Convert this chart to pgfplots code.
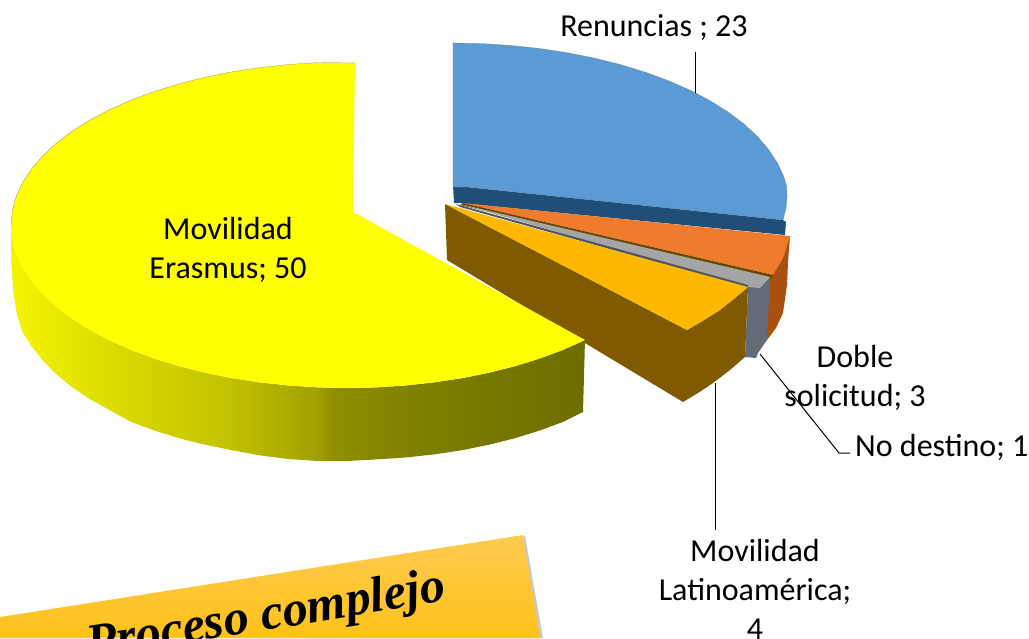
\documentclass[border=0pt]{standalone}
\usepackage{fontspec}
\setmainfont{Carlito}
\newfontfamily\cardfont{Liberation Serif}
\usepackage{pgfplots}
\pgfplotsset{compat=1.18}

\definecolor{erasmus}{HTML}{FFFF00}
\definecolor{renun}{HTML}{5B9BD5}
\definecolor{renunside}{HTML}{1F4E79}
\definecolor{doble}{HTML}{F07B2C}
\definecolor{dobleside}{HTML}{A9500F}
\definecolor{nodest}{HTML}{A5A5A5}
\definecolor{nodestside}{HTML}{636B78}
\definecolor{latino}{HTML}{FDB800}
\definecolor{latinoside}{HTML}{7F5A00}
\definecolor{cardtop}{HTML}{FFCB50}
\definecolor{cardbot}{HTML}{FFC21A}
% tikz maps the path's box onto 25bp..75bp of the shading
\pgfdeclarehorizontalshading{yellowside}{100bp}{
  color(0bp)=(yellow!96!black);
  color(25bp)=(yellow!96!black);
  color(33bp)=(yellow!87!black);
  color(44bp)=(yellow!76!black);
  color(52bp)=(yellow!62!black);
  color(53bp)=(yellow!56!black);
  color(60bp)=(yellow!50!black);
  color(68bp)=(yellow!46!black);
  color(75bp)=(yellow!43!black);
  color(100bp)=(yellow!43!black)}

\begin{document}
\begin{tikzpicture}
\clip (0,0) rectangle (1029pt,638pt);
\begin{axis}[
    scale only axis, width=1029pt, height=638pt,
    xmin=0, xmax=1029, ymin=0, ymax=638, y dir=reverse,
    hide axis, clip=false,
    every axis plot/.append style={no markers, line join=round},
  ]
  % card behind the text, at the bottom
  \addplot[draw=none, fill=black!22] coordinates {(525,536) (543,638) (300,638)} --cycle;
  \addplot[draw=none, top color=cardtop, bottom color=cardbot] coordinates {(0,617) (523,535) (540,638) (0,638)} --cycle;

  % Renuncias
  \addplot[draw=none, fill=renunside] coordinates {(453,185) (467,187) (783,220) (786,222) (785,235) (460,203) (454,203)} --cycle;
  \addplot[draw=black!55, very thin, fill=renun] coordinates {
    (453,43) (482.3,43.6) (511.3,45.5) (540,48.5) (567.9,52.8) (595,58.2) (621,64.7) (645.7,72.3)
    (669,80.9) (690.6,90.4) (710.4,100.9) (728.2,112.1) (744,124) (757.5,136.5)
    (768.7,149.6) (777.5,163.1) (783.9,176.9) (786.5,186) (787,196) (786,208) (783,220) (467,187) (453,187)} --cycle;

  % Doble solicitud
  \addplot[draw=none, fill=dobleside] coordinates {(790,236) (788,263) (787,285) (783,313) (776,328) (767,340) (758,330) (770,277)} --cycle;
  \addplot[draw=none, fill=doble] coordinates {(463,203) (790,236) (783,258) (773,275)} --cycle;
  \addplot[draw=none, fill=latinoside!80!black] coordinates {(463,203) (773,275) (770,278) (460,205)} --cycle;

  % No destino
  \addplot[draw=none, fill=nodestside] coordinates {(748,287) (760,287) (770,277) (767,340) (758,353) (756,358) (745,357)} --cycle;
  \addplot[draw=none, fill=nodest] coordinates {(460,204) (770,277) (760,288) (748,287)} --cycle;
  \addplot[draw=none, fill=nodestside!80!black] coordinates {(456,204) (748,285) (748,288) (460,207)} --cycle;

  % Movilidad Latinoamerica
  \addplot[draw=none, fill=latinoside] coordinates {
    (445,204) (687,330) (704,320) (720,310) (735,298) (748,287) (745,357) (730,370) (713,383) (698,393) (683,402) (447,260)} --cycle;
  \addplot[draw=none, fill=latino] coordinates {(445,204) (748,287) (735,298) (720,310) (704,320) (687,330)} --cycle;

  % Movilidad Erasmus
  \addplot[draw=none, shade, shading=yellowside] coordinates {
    (11,225) (12.3,239.2) (16.1,253.3) (22.5,267.2) (31.3,280.7) (42.5,293.9) (56,306.5)
    (71.8,318.5) (89.6,329.8) (109.4,340.3) (131,349.9) (154.3,358.5) (179,366.2) (205,372.7)
    (232.1,378.2) (260,382.4) (288.7,385.5) (317.7,387.4) (347,388) (376.3,387.4) (405.3,385.5)
    (434,382.4) (461.9,378.2) (489,372.7) (515,366.2) (539.7,358.5) (563,349.9)
    (585,340) (583,412) (563,421.9) (539.7,430.5) (515,438.2) (489,444.7) (461.9,450.2)
    (434,454.4) (405.3,457.5) (376.3,459.4) (347,461) (317.7,461)
    (288.7,459) (260,455.4) (232.1,450.2) (205,444.7) (179,438.2) (154.3,430.5)
    (131,421.9) (109.4,410) (89.6,399) (71.8,387) (56,374) (42.5,360)
    (31.3,346) (22.5,332) (17,315) (13,290) (11,250)} --cycle;
  \addplot[draw=none, fill=erasmus] coordinates {
    (355,63) (317.7,62.6) (288.7,64.5) (260,67.6) (232.1,71.8) (205,77.3) (179,83.8) (154.3,91.5)
    (131,100.1) (109.4,109.7) (89.6,120.2) (71.8,131.5) (56,143.5) (42.5,156.1)
    (31.3,169.3) (22.5,182.8) (16.1,196.7) (12.3,210.8) (11,225)
    (12.3,239.2) (16.1,253.3) (22.5,267.2) (31.3,280.7) (42.5,293.9) (56,306.5)
    (71.8,318.5) (89.6,329.8) (109.4,340.3) (131,349.9) (154.3,358.5) (179,366.2) (205,372.7)
    (232.1,378.2) (260,382.4) (288.7,385.5) (317.7,387.4) (347,388) (376.3,387.4) (405.3,385.5)
    (434,382.4) (461.9,378.2) (489,372.7) (515,366.2) (539.7,358.5) (563,349.9)
    (585,340) (353,212)} --cycle;
  \addplot[black!55, very thin] coordinates {
    (355,63) (317.7,62.6) (288.7,64.5) (260,67.6) (232.1,71.8) (205,77.3) (179,83.8) (154.3,91.5)
    (131,100.1) (109.4,109.7) (89.6,120.2) (71.8,131.5) (56,143.5) (42.5,156.1)
    (31.3,169.3) (22.5,182.8) (16.1,196.7) (12.3,210.8) (11,225)};

  % leader lines
  \addplot[black, line width=1pt] coordinates {(695,52) (695,93)};
  \addplot[black, line width=1pt] coordinates {(715,383) (715,530)};
  \addplot[black, line width=1pt] coordinates {(760,354) (839,453) (850,453)};

  % labels
  \begin{scope}[every node/.style={font=\fontsize{32}{39}\selectfont, align=center, inner sep=0pt, black}]
    \node at (axis cs:654,28) {Renuncias ; 23};
    \node at (axis cs:228,250) {Movilidad\\Erasmus; 50};
    \node at (axis cs:855,378) {Doble\\solicitud; 3};
    \node[anchor=west] at (axis cs:855,447) {No destino; 1};
    \node at (axis cs:755,589) {Movilidad\\Latinoam\'erica;\\4};
  \end{scope}
  \node[rotate=9.3, inner sep=0pt, font=\cardfont\bfseries\itshape\fontsize{50}{50}\selectfont] at (axis cs:266,618) {Proceso complejo};
\end{axis}
\end{tikzpicture}
\end{document}
